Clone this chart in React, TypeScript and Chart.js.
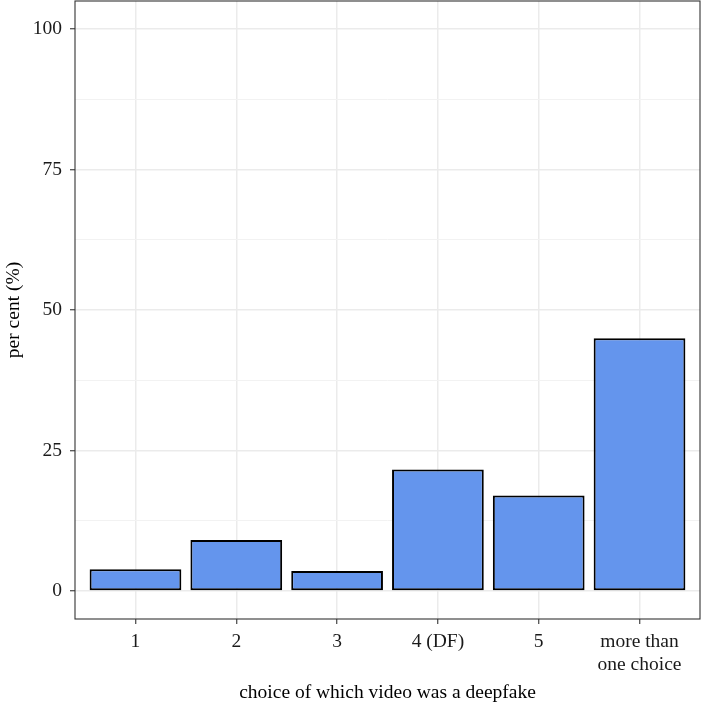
import { useEffect, useRef } from "react";
import { Chart, registerables } from "chart.js";

Chart.register(...registerables);

const categories = ["1", "2", "3", "4 (DF)", "5", "more than one choice"];
const tickLabels = [["1"], ["2"], ["3"], ["4 (DF)"], ["5"], ["more than", "one choice"]];
const percentValues = [3.85, 9.05, 3.55, 21.6, 17.0, 44.95];
const yMajorTicks = [0, 25, 50, 75, 100];
const yMinorTicks = [12.5, 37.5, 62.5, 87.5];
const xTitle = "choice of which video was a deepfake";
const yTitle = "per cent (%)";

const FONT = "'Liberation Serif', 'DejaVu Serif', serif";

const panelBorder = {
  id: "panelBorder",
  afterDraw(chart: any) {
    const { ctx, chartArea: a } = chart;
    ctx.save();
    ctx.strokeStyle = "#333333";
    ctx.lineWidth = 1.1;
    ctx.strokeRect(a.left, a.top, a.right - a.left, a.bottom - a.top);
    ctx.restore();
  },
};

export default function App() {
  const ref = useRef<HTMLCanvasElement | null>(null);

  useEffect(() => {
    if (!ref.current) return;
    const chart = new Chart(ref.current, {
      type: "bar",
      data: {
        datasets: [
          {
            data: percentValues.map((y, i) => ({ x: i, y })),
            backgroundColor: "#6495ED",
            borderColor: "#000000",
            borderWidth: 2,
            borderSkipped: false,
            barPercentage: 0.91,
            categoryPercentage: 1,
          } as any,
        ],
      },
      options: {
        animation: false,
        responsive: false,
        maintainAspectRatio: false,
        layout: { padding: { top: 1, right: 1, left: 0, bottom: 0 } },
        plugins: {
          legend: { display: false },
          tooltip: { enabled: false },
        },
        scales: {
          x: {
            type: "linear",
            min: -0.6,
            max: 5.6,
            offset: false,
            afterBuildTicks: (scale: any) => {
              scale.ticks = categories.map((_, i) => ({ value: i }));
            },
            afterFit: (scale: any) => {
              scale.height = 84;
              scale.paddingLeft = 0;
              scale.paddingRight = 0;
            },
            grid: {
              offset: false,
              color: "#ebebeb",
              lineWidth: 1.5,
              drawTicks: true,
              tickLength: 5,
              tickColor: "#333333",
              tickWidth: 1.1,
            },
            border: { display: false },
            ticks: {
              autoSkip: false,
              maxRotation: 0,
              minRotation: 0,
              padding: 6,
              color: "#1a1a1a",
              font: { family: FONT, size: 19.5, lineHeight: 1.2 },
              callback: (v: any) => tickLabels[Math.round(Number(v))] ?? "",
            },
            title: {
              display: true,
              text: xTitle,
              color: "#000000",
              font: { family: FONT, size: 19.5, lineHeight: 1.0 },
              padding: { top: 0, bottom: 0 },
            },
          } as any,
          y: {
            type: "linear",
            min: -5,
            max: 105,
            afterBuildTicks: (scale: any) => {
              scale.ticks = [...yMajorTicks, ...yMinorTicks]
                .sort((a, b) => a - b)
                .map((v) => ({ value: v }));
            },
            afterFit: (scale: any) => {
              scale.width = 75;
              scale.paddingTop = 0;
              scale.paddingBottom = 0;
            },
            grid: {
              color: (c: any) =>
                yMajorTicks.includes(c.tick?.value) ? "#ebebeb" : "#f2f2f2",
              lineWidth: (c: any) => (yMajorTicks.includes(c.tick?.value) ? 1.5 : 1),
              drawTicks: true,
              tickLength: 5,
              tickColor: (c: any) =>
                yMajorTicks.includes(c.tick?.value) ? "#333333" : "rgba(0,0,0,0)",
              tickWidth: 1.1,
            },
            border: { display: false },
            ticks: {
              autoSkip: false,
              padding: 8,
              color: "#1a1a1a",
              font: { family: FONT, size: 19.5 },
              callback: (v: any) =>
                yMajorTicks.includes(Number(v)) ? String(v) : "",
            },
            title: {
              display: true,
              text: yTitle,
              color: "#000000",
              font: { family: FONT, size: 19.5, lineHeight: 1.2 },
              padding: { top: 2, bottom: 0 },
            },
          } as any,
        },
      },
      plugins: [panelBorder],
    });
    return () => chart.destroy();
  }, []);

  return (
    <div
      style={{
        position: "fixed",
        left: 0,
        top: 0,
        width: 701,
        height: 703,
        background: "#ffffff",
      }}
    >
      <canvas ref={ref} width={701} height={703} style={{ width: 701, height: 703 }} />
    </div>
  );
}
